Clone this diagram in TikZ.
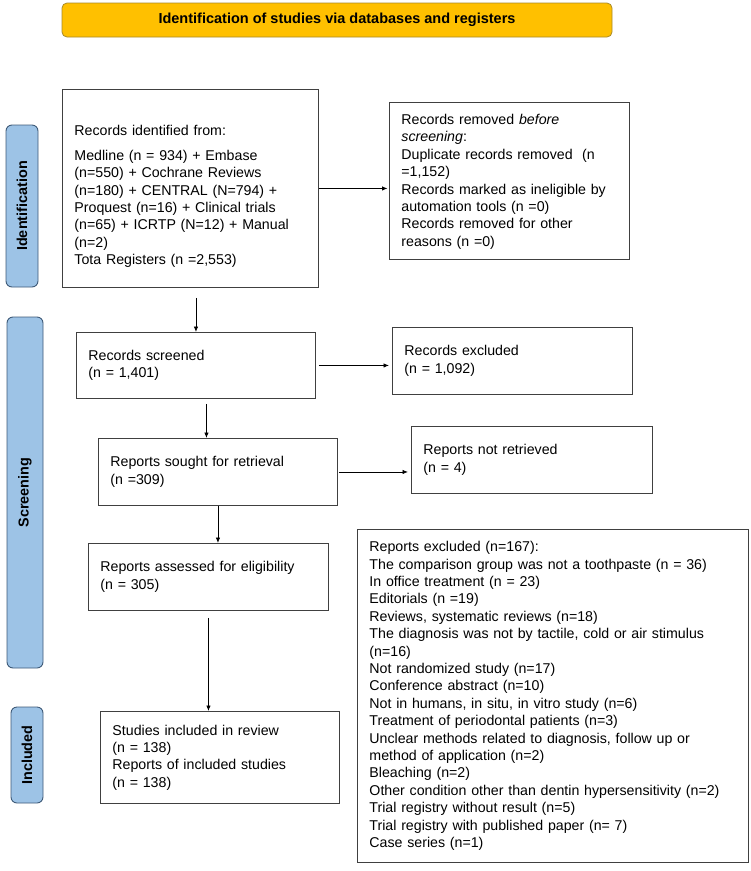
\documentclass[tikz,border=0pt]{standalone}
\usepackage{fontspec}
\setmainfont{Liberation Sans}
\usetikzlibrary{arrows.meta,calc}
\definecolor{bannerfill}{HTML}{FFC000}
\definecolor{bannerline}{HTML}{A88A2A}
\definecolor{sidefill}{HTML}{9DC3E6}
\definecolor{sideline}{HTML}{3E5A78}
\definecolor{boxline}{HTML}{404040}
\begin{document}
\begin{tikzpicture}[x=1pt,y=-1pt,
  bx/.style={draw=boxline, line width=0.9pt, anchor=north west, align=left,
    inner xsep=12pt, inner ysep=0pt, font=\fontsize{14.2}{17.4}\selectfont},
  sidebox/.style={draw=sideline, fill=sidefill, line width=0.9pt, rounded corners=6pt,
    rotate=90, inner sep=0pt, font=\fontsize{14.4}{17}\selectfont\bfseries},
  arr/.style={-{Latex[length=5.5pt,width=4.5pt]}, line width=0.8pt, draw=black}]
\useasboundingbox (0,0) rectangle (751,871);

% banner
\node[draw=bannerline, fill=bannerfill, line width=0.8pt, rounded corners=5pt,
  minimum width=550pt, minimum height=34pt, inner sep=0pt,
  font=\fontsize{14.5}{17}\selectfont\bfseries] (banner) at (337,20)
  {Identification of studies via databases and registers};

% side labels
\node[sidebox, minimum width=162pt, minimum height=32pt] (sideid) at (22,206) {Identification};
\node[sidebox, minimum width=351pt, minimum height=36pt] (sidescr) at (25,492.5) {Screening};
\node[sidebox, minimum width=96pt, minimum height=32pt] (sideinc) at (27,755) {Included};

% boxes
\node[bx, text width=232pt, minimum height=198pt] (recid) at (62,89)
  {\mbox{}\\[8.6pt]
   Records identified from:\\[7.6pt]
   Medline (n = 934) + Embase\\
   (n=550) + Cochrane Reviews\\
   (n=180) + CENTRAL (N=794) +\\
   Proquest (n=16) + Clinical trials\\
   (n=65) + ICRTP (N=12) + Manual\\
   (n=2)\\
   Tota Registers (n =2,553)};

\node[bx, text width=216pt, minimum height=157pt] (removed) at (389,102)
  {\mbox{}\\[-5.4pt]
   Records removed \textit{before}\\
   \textit{screening}:\\
   Duplicate records removed\ \ (n\\
   =1,152)\\
   Records marked as ineligible by\\
   automation tools (n =0)\\
   Records removed for other\\
   reasons (n =0)};

\node[bx, text width=215pt, minimum height=66pt] (screen) at (76,332)
  {Records screened\\(n = 1,401)};
\node[bx, text width=216pt, minimum height=67pt] (excl) at (392,327)
  {Records excluded\\(n = 1,092)};
\node[bx, text width=215pt, minimum height=67pt] (sought) at (98,438)
  {Reports sought for retrieval\\(n =309)};
\node[bx, text width=217pt, minimum height=67pt] (notret) at (411,426)
  {Reports not retrieved\\(n = 4)};
\node[bx, text width=216pt, minimum height=67pt] (assess) at (88,543)
  {Reports assessed for eligibility\\(n = 305)};
\node[bx, text width=215pt, minimum height=92pt] (incl) at (100,711)
  {Studies included in review\\(n = 138)\\Reports of included studies\\(n = 138)};

\node[bx, text width=367pt, minimum height=333pt] (reasons) at (357,529)
  {Reports excluded (n=167):\\
   The comparison group was not a toothpaste (n = 36)\\
   In office treatment (n = 23)\\
   Editorials (n =19)\\
   Reviews, systematic reviews (n=18)\\
   The diagnosis was not by tactile, cold or air stimulus\\
   (n=16)\\
   Not randomized study (n=17)\\
   Conference abstract (n=10)\\
   Not in humans, in situ, in vitro study (n=6)\\
   Treatment of periodontal patients (n=3)\\
   Unclear methods related to diagnosis, follow up or\\
   method of application (n=2)\\
   Bleaching (n=2)\\
   Other condition other than dentin hypersensitivity (n=2)\\
   Trial registry without result (n=5)\\
   Trial registry with published paper (n= 7)\\
   Case series (n=1)};

% connectors
\draw[arr, shorten >=1.5pt] (recid.east) -- (recid.east -| removed.west);
\draw[arr, shorten <=10pt] (screen.north |- recid.south) -- (screen.north);
\draw[arr, shorten <=3pt, shorten >=3pt] (screen.east) -- (screen.east -| excl.west);
\draw[arr, shorten <=5pt] ([xshift=10.5pt]screen.south) -- ([xshift=10.5pt]screen.south |- sought.north);
\draw[arr, shorten <=1pt, shorten >=3pt] (sought.east) -- (sought.east -| notret.west);
\draw[arr] (sought.south) -- (sought.south |- assess.north);
\draw[arr, shorten <=7pt] (assess.south) -- (assess.south |- incl.north);
\end{tikzpicture}
\end{document}
